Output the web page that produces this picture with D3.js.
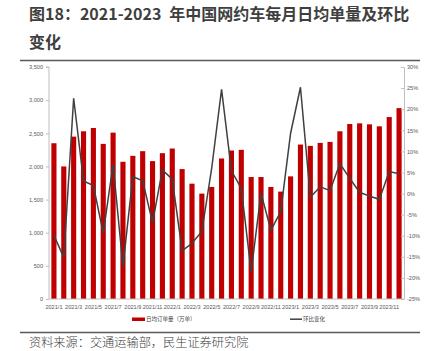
<!DOCTYPE html>
<html>
<head>
<meta charset="utf-8">
<script src="https://cdn.jsdelivr.net/npm/d3@7"></script>
<style>
  body { margin: 0; background: #fff; }
  svg { display: block; }
</style>
</head>
<body>
<svg id="chart" width="429" height="351"></svg>
<script>
// months 2021/1 .. 2023/12
var months = ["2021/1","2021/2","2021/3","2021/4","2021/5","2021/6","2021/7","2021/8","2021/9","2021/10","2021/11","2021/12",
  "2022/1","2022/2","2022/3","2022/4","2022/5","2022/6","2022/7","2022/8","2022/9","2022/10","2022/11","2022/12",
  "2023/1","2023/2","2023/3","2023/4","2023/5","2023/6","2023/7","2023/8","2023/9","2023/10","2023/11","2023/12"];

// 日均订单量（万单）
var orders = [2350, 2000, 2450, 2530, 2580, 2340, 2510, 2070, 2160, 2230, 2080, 2200,
  2270, 1960, 1740, 1590, 1690, 2120, 2240, 2250, 1840, 1840, 1690, 1620,
  1850, 2330, 2310, 2355, 2370, 2530, 2640, 2650, 2635, 2605, 2745, 2880];

// 环比变化 (%)
var mom = [-9.9, -15.2, 22.6, 3.0, 1.9, -9.4, 6.9, -17.3, 4.0, 3.0, -6.9, 5.6,
  3.4, -13.6, -11.8, -9.0, 6.0, 24.7, 5.4, 1.2, -18.5, 0.1, -8.7, -4.3,
  14.3, 25.2, -0.9, 1.6, 0.7, 7.1, 3.6, 0.3, -0.6, -1.4, 5.2, 4.7];

var leftTicks = [0, 500, 1000, 1500, 2000, 2500, 3000, 3500];
var rightTicks = [-25, -20, -15, -10, -5, 0, 5, 10, 15, 20, 25, 30];
var xLabels = months.filter(function(d, i) { return i % 2 === 0; });

var svg = d3.select("#chart");
var plotLeft = 49, plotRight = 404, plotTop = 67, plotBottom = 299;

var x = d3.scaleBand().domain(months).range([plotLeft, plotRight]).paddingInner(0.48).paddingOuter(0.24);
var yL = d3.scaleLinear().domain([0, 3500]).range([plotBottom, plotTop]);
var yR = d3.scaleLinear().domain([-25, 30]).range([plotBottom, plotTop]);

// title
var title = svg.append("g").attr("font-family", "'Noto Sans CJK SC', sans-serif")
  .attr("font-weight", "bold").attr("fill", "#3f3f3f").attr("font-size", 16);
var t1 = title.append("text").attr("x", 29).attr("y", 20);
t1.append("tspan").text("图18：2021-2023");
t1.append("tspan").attr("dx", 8).text("年中国网约车每月日均单量及环比");
title.append("text").attr("x", 29).attr("y", 48).text("变化");

svg.append("line").attr("x1", 20).attr("x2", 420).attr("y1", 60.5).attr("y2", 60.5)
  .attr("stroke", "#595959").attr("stroke-width", 1.5);

// bars
svg.append("g").selectAll("rect")
  .data(orders)
  .enter()
  .append("rect")
  .attr("x", function(d, i) { return x(months[i]); })
  .attr("width", x.bandwidth())
  .attr("y", function(d) { return yL(d); })
  .attr("height", function(d) { return yL(0) - yL(d); })
  .attr("fill", "#c00000");

// line
var line = d3.line()
  .x(function(d, i) { return x(months[i]) + x.bandwidth() / 2; })
  .y(function(d) { return yR(d); });

svg.append("path")
  .datum(mom)
  .attr("d", line)
  .attr("fill", "none")
  .attr("stroke", "#404040")
  .attr("stroke-width", 1.5);

// axes
var axisFont = "'Liberation Sans', Arial, sans-serif";

var yAxisL = d3.axisLeft(yL).tickValues(leftTicks).tickSize(3).tickFormat(d3.format(","));
var gL = svg.append("g").attr("transform", "translate(" + plotLeft + ",0)").call(yAxisL);
var yAxisR = d3.axisRight(yR).tickValues(rightTicks).tickSizeInner(-3).tickSizeOuter(0).tickFormat(function(d) { return d + "%"; });
var gR = svg.append("g").attr("transform", "translate(" + plotRight + ",0)").call(yAxisR);

var xAxis = d3.axisBottom(x).tickValues(xLabels).tickSize(0);
var gX = svg.append("g").attr("transform", "translate(0," + plotBottom + ")").call(xAxis);

[gL, gR, gX].forEach(function(g) {
  g.selectAll("path.domain").attr("stroke", "#bfbfbf").attr("stroke-width", 1);
  g.selectAll(".tick line").attr("stroke", "#bfbfbf");
  g.selectAll("text").attr("font-family", axisFont).attr("font-size", 5.6).attr("fill", "#595959");
});
gL.selectAll("path.domain").attr("d", "M-3," + plotTop + "H0V" + plotBottom);
gL.selectAll("text").attr("x", -6);
gR.selectAll("text").attr("x", 3);
gX.selectAll("text").attr("y", 6);
gX.selectAll("path.domain").attr("d", "M" + plotLeft + ",0H" + plotRight);

// legend
var legend = svg.append("g").attr("font-family", "'Noto Sans CJK SC', sans-serif")
  .attr("font-size", 5.5).attr("fill", "#404040");
legend.append("rect").attr("x", 132).attr("y", 317.5).attr("width", 13).attr("height", 3.5).attr("fill", "#c00000");
legend.append("text").attr("x", 146).attr("y", 321).text("日均订单量（万单）");
legend.append("line").attr("x1", 290).attr("x2", 302).attr("y1", 319.2).attr("y2", 319.2)
  .attr("stroke", "#404040").attr("stroke-width", 1.5);
legend.append("text").attr("x", 303).attr("y", 321).text("环比变化");

// footer
svg.append("line").attr("x1", 20).attr("x2", 420).attr("y1", 332.5).attr("y2", 332.5)
  .attr("stroke", "#595959").attr("stroke-width", 1.5);
svg.append("text").attr("x", 29).attr("y", 347)
  .attr("font-family", "'Noto Sans CJK SC', sans-serif").attr("font-size", 12.2)
  .attr("font-weight", 300)
  .attr("fill", "#404040").text("资料来源：交通运输部，民生证券研究院");
</script>
</body>
</html>
